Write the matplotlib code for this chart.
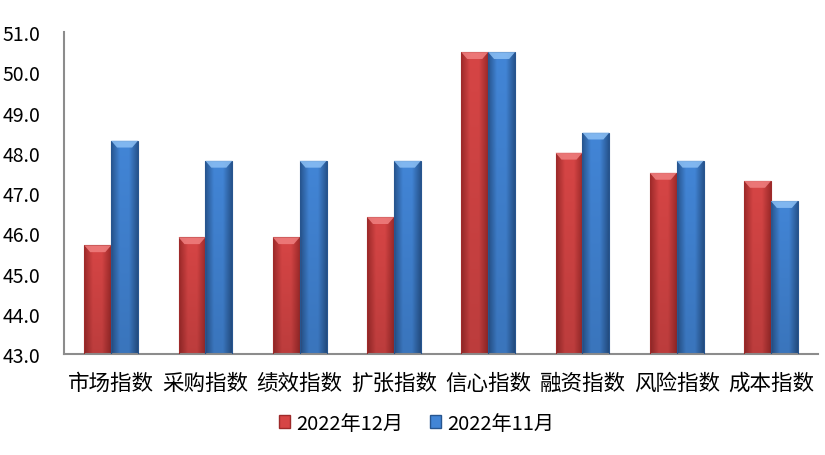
import numpy as np
import matplotlib.pyplot as plt
from matplotlib.patches import Polygon, Rectangle
from matplotlib.colors import LinearSegmentedColormap

plt.rcParams['font.family'] = ['Noto Sans CJK SC', 'DejaVu Sans']

# --- Data ---
categories = ['市场指数', '采购指数', '绩效指数', '扩张指数', '信心指数', '融资指数', '风险指数', '成本指数']
dec_2022 = [45.7, 45.9, 45.9, 46.4, 50.5, 48.0, 47.5, 47.3]
nov_2022 = [48.3, 47.8, 47.8, 47.8, 50.5, 48.5, 47.8, 46.8]
series_names = ['2022年12月', '2022年11月']
y_ticks = [43.0, 44.0, 45.0, 46.0, 47.0, 48.0, 49.0, 50.0, 51.0]

# --- Styles ---
red_dark, red_mid, red_light = '#9E2A2A', '#D64545', '#F08080'
blue_dark, blue_mid, blue_light = '#27558F', '#4285D6', '#8CC0F5'
bar_w = 0.285
ymin, ymax = 43.0, 51.0

fig = plt.figure(figsize=(8.25, 4.56), dpi=100)
ax = fig.add_axes([0.0776, 0.2215, 0.914, 0.7061])
x = np.arange(len(categories))


def bevel_bar(ax, xc, val, dark, mid, light):
    left = xc - bar_w / 2
    cmap = LinearSegmentedColormap.from_list('b', [dark, mid, mid, dark])
    grad = np.linspace(0, 1, 64)[None, :]
    vgrad = np.linspace(0.88, 1.0, 32)[:, None]
    img = cmap(np.repeat(grad, 32, axis=0))
    img[..., :3] *= vgrad[:, :, None]
    im = ax.imshow(img, extent=[left, left + bar_w, ymin, val], origin='lower',
                   aspect='auto', zorder=2, interpolation='bilinear')
    rect = Rectangle((left, ymin), bar_w, val - ymin, transform=ax.transData,
                     facecolor='none', edgecolor=dark, lw=0.8, zorder=3)
    ax.add_patch(rect)
    im.set_clip_path(rect)
    # top bevel
    h = 0.17
    inset = bar_w * 0.22
    tri = Polygon([[left, val], [left + bar_w, val],
                   [left + bar_w - inset, val - h], [left + inset, val - h]],
                  closed=True, facecolor=light, edgecolor='none', alpha=0.85, zorder=4)
    ax.add_patch(tri)


for i in range(len(categories)):
    bevel_bar(ax, x[i] - bar_w / 2, dec_2022[i], red_dark, red_mid, red_light)
    bevel_bar(ax, x[i] + bar_w / 2, nov_2022[i], blue_dark, blue_mid, blue_light)

ax.set_xlim(-0.5, len(categories) - 0.5)
ax.set_ylim(ymin, ymax)
ax.set_yticks(y_ticks)
ax.set_yticklabels(['%.1f' % t for t in y_ticks], fontsize=14)
ax.set_xticks(x)
ax.set_xticklabels(categories, fontsize=15.5)
ax.tick_params(axis='both', length=0, colors='#000000')
ax.tick_params(axis='x', pad=13)
ax.tick_params(axis='y', pad=17)
for s in ['top', 'right']:
    ax.spines[s].set_visible(False)
for s in ['left', 'bottom']:
    ax.spines[s].set_color('#8C8C8C')
    ax.spines[s].set_linewidth(1.5)

# --- Legend ---
handles = [Rectangle((0, 0), 1, 1, facecolor=red_mid, edgecolor=red_dark),
           Rectangle((0, 0), 1, 1, facecolor=blue_mid, edgecolor=blue_dark)]
fig.legend(handles, series_names, loc='center', bbox_to_anchor=(0.505, 0.07), ncol=2,
           frameon=False, fontsize=14.5, handlelength=0.55, handleheight=0.55,
           handletextpad=0.3, columnspacing=1.3)

fig.savefig('out.png', dpi=100)
